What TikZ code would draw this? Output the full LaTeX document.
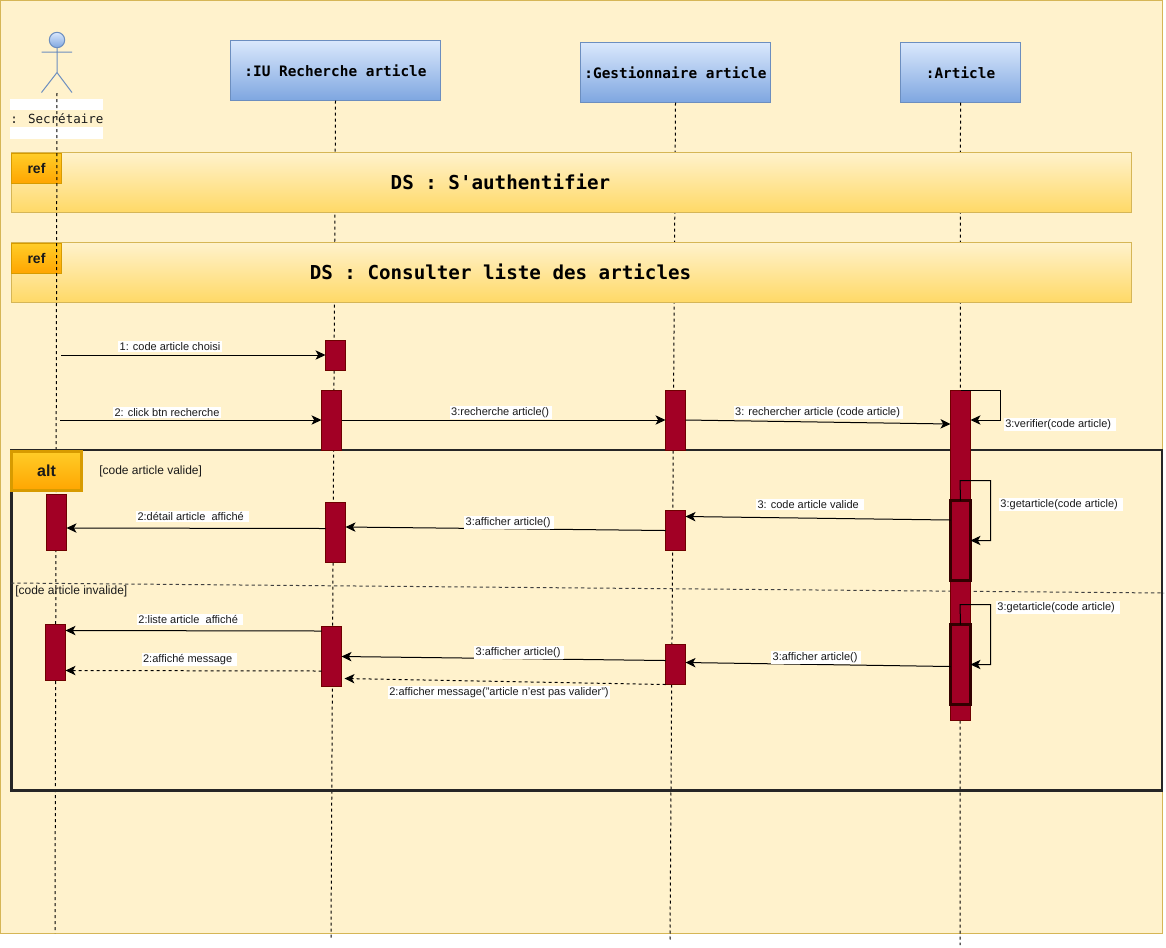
\documentclass[tikz,border=0pt]{standalone}
\usepackage{fontspec}
\setmainfont{Liberation Sans}
\newfontfamily\monof{DejaVu Sans Mono}
\usetikzlibrary{arrows.meta,calc}
\definecolor{bgc}{HTML}{FFF2CC}
\definecolor{bgb}{HTML}{D6B656}
\definecolor{blt}{HTML}{DAE8FC}
\definecolor{blb}{HTML}{7EA6E0}
\definecolor{blc}{HTML}{6C8EBF}
\definecolor{rft}{HTML}{FFF2CC}
\definecolor{rfb}{HTML}{FFD966}
\definecolor{tgt}{HTML}{FFCD28}
\definecolor{tgb}{HTML}{FFA500}
\definecolor{tgc}{HTML}{D79B00}
\definecolor{acf}{HTML}{A20025}
\definecolor{acd}{HTML}{6F0000}
\definecolor{ack}{HTML}{330000}
\definecolor{txc}{HTML}{1A1A1A}
\newcommand{\boxnode}[7]{%
  \pgfmathsetmacro{\bw}{(#5-#3)*0.75}%
  \pgfmathsetmacro{\bh}{(#6-#4)*0.75}%
  \node[#2,minimum width=\bw pt,minimum height=\bh pt] (#1) at ({(#3+#5)/2},{-(#4+#6)/2}) {#7};}
\tikzset{
  x=0.75pt,y=0.75pt,
  anybox/.style={rectangle,inner sep=0pt,outer sep=0pt},
  lifebox/.style={anybox,draw=blc,line width=0.75pt,top color=blt,bottom color=blb,font=\monof\bfseries\fontsize{10.8pt}{12pt}\selectfont,text=black},
  refbox/.style={anybox,draw=bgb,line width=0.75pt,top color=rft,bottom color=rfb},
  reftag/.style={anybox,draw=tgc,line width=0.75pt,top color=tgt,bottom color=tgb,font=\bfseries\fontsize{10.5pt}{12pt}\selectfont,text=txc},
  alttag/.style={anybox,draw=tgc,line width=2.25pt,top color=tgt,bottom color=tgb,font=\bfseries\fontsize{12pt}{14pt}\selectfont,text=txc},
  frametitle/.style={inner sep=0pt,font=\monof\bfseries\fontsize{14.4pt}{16pt}\selectfont,text=black},
  act/.style={anybox,fill=acf,draw=acd,line width=0.75pt},
  actk/.style={anybox,fill=acf,draw=ack,line width=2.25pt},
  lifeline/.style={draw=black,line width=0.75pt,dash pattern=on 2.25pt off 2.25pt},
  msg/.style={draw=black,line width=0.75pt,-{Stealth[length=7.5pt,width=7pt,inset=2pt]}},
  msgd/.style={msg,dash pattern=on 2.25pt off 2.25pt},
  lab/.style={fill=white,inner xsep=1pt,inner ysep=1pt,yshift=-0.5pt,font=\fontsize{8.25pt}{9.5pt}\selectfont,text=txc},
  guard/.style={inner sep=0pt,font=\fontsize{9pt}{10pt}\selectfont,text=txc,anchor=west},
  actorline/.style={draw=blc,line width=0.75pt},
}
\begin{document}
\begin{tikzpicture}
\useasboundingbox (0,0) rectangle (1166,-947);
% page
\boxnode{page}{anybox,fill=bgc,draw=bgb,line width=0.75pt}{0.5}{0.5}{1162.5}{933}{}
% lifeboxes
\boxnode{iu}{lifebox}{230.5}{40.5}{440.5}{100.5}{:IU Recherche article}
\boxnode{ge}{lifebox}{580.5}{42.5}{770.5}{102.5}{:Gestionnaire article}
\boxnode{ar}{lifebox}{900.5}{42.5}{1020.5}{102.5}{:Article}
\coordinate (iuend) at (331,-938);
\coordinate (geend) at (670,-942);
\coordinate (arend) at (960,-945);
\path[lifeline] (iu.south) -- (iuend);
\path[lifeline] (ge.south) -- (geend);
\path[lifeline] (ar.south) -- (arend);
% actor label
\boxnode{bandA}{anybox,fill=white}{10}{99}{103}{110}{}
\boxnode{bandB}{anybox,fill=white}{10}{127}{103}{139}{}
\node[inner sep=0pt,font=\monof\fontsize{9.4pt}{11pt}\selectfont,text=txc] (actlabel) at (57,-118.5) {: Secrétaire};
% ref frames
\boxnode{refA}{refbox}{11.5}{152.5}{1131.5}{212.5}{}
\boxnode{refB}{refbox}{11.5}{242.5}{1131.5}{302.5}{}
\boxnode{tagA}{reftag,text depth=0pt,yshift=-0.5pt}{11.5}{152.5}{61.5}{182.5}{ref}
\boxnode{tagB}{reftag,text depth=0pt,yshift=-0.5pt}{11.5}{242.5}{61.5}{272.5}{ref}
\node[frametitle] (dsA) at (500.5,-182) {DS : S'authentifier};
\node[frametitle] (dsB) at (500.5,-272) {DS : Consulter liste des articles};
% actor
\draw[actorline,top color=blt,bottom color=blb] (57,-40) circle (7.7);
\coordinate (neck) at (57,-47.7);
\coordinate (hip) at (57,-72.5);
\coordinate (armL) at (41.5,-52);
\coordinate (armR) at (72,-52);
\coordinate (legL) at (41.5,-92.5);
\coordinate (legR) at (72,-92.5);
\path[actorline] (neck) -- (hip) (armL) -- (armR) (legL) -- (hip) -- (legR);
\coordinate (actstart) at (57,-93);
\coordinate (actend) at (55,-933);
\path[lifeline] (actstart) -- (actend);
% alt frame
\boxnode{alt}{anybox,draw=black!85,line width=1.6pt}{11.5}{450}{1162}{790.5}{}
\coordinate (divL) at (11,-583);
\coordinate (divR) at (1164,-593);
\draw[draw=black!75,line width=0.75pt,dash pattern=on 2.5pt off 2.25pt] (divL) -- (divR);
\node[guard] (gv) at (99,-471) {[code article valide]};
\node[guard] (gi) at (15,-591) {[code article invalide]};
% activations
\boxnode{aA}{act}{325.5}{340.5}{345.5}{370.5}{}
\boxnode{aB}{act}{321.5}{390.5}{341.5}{450.5}{}
\boxnode{gA}{act}{665.5}{390.5}{685.5}{450.5}{}
\boxnode{rM}{act}{950.5}{390.5}{970.5}{720.5}{}
\boxnode{sA}{act}{46.5}{494}{66.5}{550.5}{}
\boxnode{aC}{act}{325.5}{502.5}{345.5}{562.5}{}
\boxnode{gB}{act}{665.5}{510.5}{685.5}{550.5}{}
\boxnode{rA}{actk}{950.5}{500.5}{970.5}{580.5}{}
\boxnode{sB}{act}{45.5}{624.5}{65.5}{680.5}{}
\boxnode{aD}{act}{321.5}{626.5}{341.5}{686.5}{}
\boxnode{gC}{act}{665.5}{644.5}{685.5}{684.5}{}
\boxnode{rB}{actk}{950.5}{624.5}{970.5}{704.5}{}
\boxnode{alttg}{alttag}{11.5}{451}{81.5}{490.5}{alt}
% messages
\coordinate (m1) at (61,-355);
\coordinate (m2) at (60,-420);
\draw[msg] (m1) -- (aA.west |- m1);
\draw[msg] (m2) -- (aB.west |- m2);
\draw[msg] (aB.east |- 0,-420) -- (gA.west |- 0,-420);
\draw[msg] (gA.east |- 0,-420) -- (rM.west |- 0,-424);
\coordinate (vA) at (1000,-390.5);
\coordinate (vB) at (1000,-420);
\draw[msg] (rM.north) -- (vA) -- (vB) -- (rM.east |- vB);
\coordinate (gaA) at (960,-480.5);
\coordinate (gaB) at (990.5,-480.5);
\coordinate (gaC) at (990.5,-540.5);
\draw[msg] (rA.north) -- (gaA) -- (gaB) -- (gaC) -- (rA.east |- gaC);
\coordinate (gbA) at (960,-604.5);
\coordinate (gbB) at (990.5,-604.5);
\coordinate (gbC) at (990.5,-664.5);
\draw[msg] (rB.north) -- (gbA) -- (gbB) -- (gbC) -- (rB.east |- gbC);
\draw[msg] (rA.west |- 0,-520) -- (gB.east |- 0,-516.5);
\draw[msg] (gB.west |- 0,-530.5) -- (aC.east |- 0,-527);
\draw[msg] (aC.west |- 0,-528.5) -- (sA.east |- 0,-528);
\draw[msg] (aD.west |- 0,-631) -- (sB.east |- 0,-630.5);
\draw[msgd] (aD.west |- 0,-671) -- (sB.east |- 0,-670.5);
\draw[msg] (gC.west |- 0,-660.5) -- (aD.east |- 0,-656.5);
\draw[msg] (rB.west |- 0,-666.5) -- (gC.east |- 0,-662.5);
\draw[msgd] (gC.west |- 0,-684.5) -- ([xshift=2.25pt]aD.east |- 0,-678.5);
% labels
\node[lab] (l1) at (170,-346) {1: code article choisi};
\node[lab] (l2) at (167,-411.5) {2: click btn recherche};
\node[lab] (l3) at (501,-411.5) {3:recherche article()\,};
\node[lab] (l4) at (818.5,-411.5) {3: rechercher article (code article)\,};
\node[lab] (l5) at (1060,-423.5) {3:verifier(code article)\,\,};
\node[lab] (l6) at (1061,-503.5) {3:getarticle(code article)\,\,};
\node[lab] (l7) at (1058,-606.5) {3:getarticle(code article)\,\,};
\node[lab] (l8) at (810,-503.5) {3: code article valide\,\,};
\node[lab] (l9) at (509,-521.5) {3:afficher article()\,};
\node[lab] (l10) at (192.5,-515.5) {2:détail article \ affiché\,\,};
\node[lab] (l11) at (190,-618.5) {2:liste article \ affiché\,\,};
\node[lab] (l12) at (189.5,-658.5) {2:affiché message\,\,};
\node[lab] (l13) at (519,-651.5) {3:afficher article()\,};
\node[lab] (l14) at (816,-656.5) {3:afficher article()\,};
\node[lab] (l15) at (499,-691.5) {2:afficher message("article n'est pas valider")};
\end{tikzpicture}
\end{document}
